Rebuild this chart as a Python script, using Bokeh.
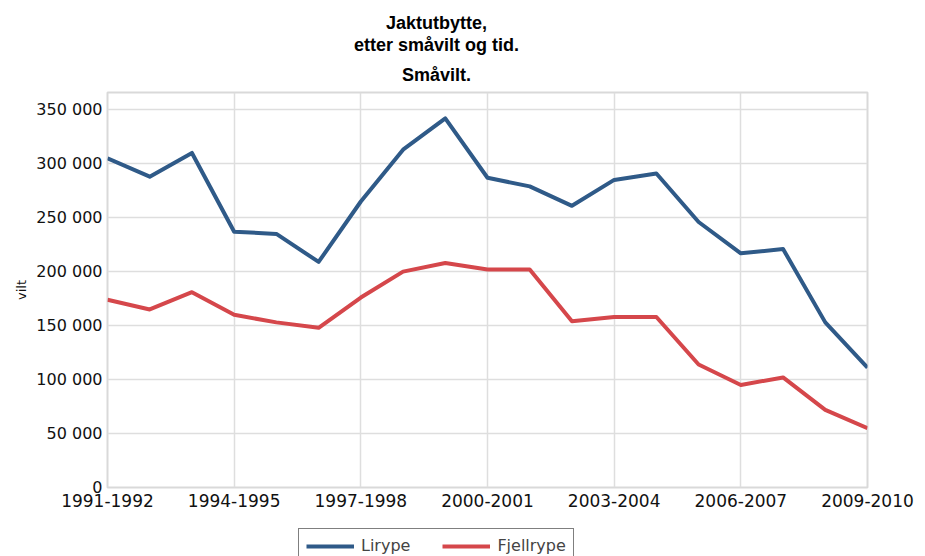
from bokeh.plotting import figure
from bokeh.layouts import column
from bokeh.models import Range1d, FixedTicker, Title, Legend, LegendItem
from bokeh.embed import file_html
from bokeh.resources import INLINE

seasons = ["1991-1992", "1992-1993", "1993-1994", "1994-1995", "1995-1996",
           "1996-1997", "1997-1998", "1998-1999", "1999-2000", "2000-2001",
           "2001-2002", "2002-2003", "2003-2004", "2004-2005", "2005-2006",
           "2006-2007", "2007-2008", "2008-2009", "2009-2010"]
lirype = [305000, 288000, 310000, 237000, 235000, 209000, 265000, 313000, 342000,
          287000, 279000, 261000, 285000, 291000, 246000, 217000, 221000, 153000, 111000]
fjellrype = [174000, 165000, 181000, 160000, 153000, 148000, 176000, 200000, 208000,
             202000, 202000, 154000, 158000, 158000, 114000, 95000, 102000, 72000, 55000]
y_ticks = [0, 50000, 100000, 150000, 200000, 250000, 300000, 350000]
y_tick_labels = ["0", "50 000", "100 000", "150 000", "200 000", "250 000", "300 000", "350 000"]
series_names = ["Lirype", "Fjellrype"]
series_colors = ["#2f5a88", "#d5474b"]
title_lines = ["Jaktutbytte,", "etter småvilt og tid.", "Småvilt."]
y_label = "vilt"

x = list(range(len(seasons)))
x_tick_pos = x[::3]

p = figure(width=925, height=526, output_backend="svg", toolbar_location=None,
           x_range=Range1d(0, len(seasons) - 1), y_range=Range1d(0, 366000),
           min_border_left=107, min_border_right=58, min_border_top=92, min_border_bottom=39)
p.background_fill_color = "white"
p.border_fill_color = "white"
p.outline_line_color = "#d9d9d9"
p.outline_line_width = 2

p.xaxis.ticker = FixedTicker(ticks=x_tick_pos)
p.xaxis.major_label_overrides = {i: seasons[i] for i in x_tick_pos}
p.yaxis.ticker = FixedTicker(ticks=y_ticks)
p.yaxis.major_label_overrides = {v: l for v, l in zip(y_ticks, y_tick_labels)}
for ax in (p.xaxis, p.yaxis):
    ax.axis_line_color = None
    ax.major_tick_line_color = None
    ax.minor_tick_line_color = None
    ax.major_tick_out = 0
    ax.major_tick_in = 0
    ax.major_label_text_font = "DejaVu Sans"
    ax.major_label_text_color = "#111111"
p.xaxis.major_label_text_font_size = "17px"
p.yaxis.major_label_text_font_size = "16px"
p.xaxis.major_label_standoff = 6
p.yaxis.major_label_standoff = 5
p.yaxis.axis_label = y_label
p.yaxis.axis_label_text_font = "DejaVu Sans"
p.yaxis.axis_label_text_font_size = "13px"
p.yaxis.axis_label_text_font_style = "normal"
p.yaxis.axis_label_text_color = "#111111"
p.yaxis.axis_label_standoff = 4

p.xgrid.ticker = FixedTicker(ticks=x_tick_pos)
p.ygrid.ticker = FixedTicker(ticks=y_ticks)
for g in (p.xgrid, p.ygrid):
    g.grid_line_color = "#dedede"
    g.grid_line_width = 1.5

r1 = p.line(x, lirype, line_color=series_colors[0], line_width=4, line_join="round")
r2 = p.line(x, fjellrype, line_color=series_colors[1], line_width=4, line_join="round")

# title lines: added bottom-most first so the first line ends up on top
est_widths = [101, 165, 69]
standoffs = [0, 0, 16]
for t, w, s in reversed(list(zip(title_lines, est_widths, standoffs))):
    p.add_layout(Title(text=t, align="left", offset=329 - w / 2, standoff=s,
                       text_font="Liberation Sans", text_font_style="bold",
                       text_font_size="18px", text_color="black"), "above")

# legend strip below the chart (its lines carry the data but lie outside its view)
lg = figure(width=925, height=30, output_backend="svg", toolbar_location=None,
            x_axis_type=None, y_axis_type=None,
            x_range=Range1d(0, len(seasons) - 1), y_range=Range1d(0, 1),
            min_border_left=0, min_border_right=0, min_border_top=0, min_border_bottom=0)
lg.outline_line_color = None
lg.grid.visible = False
lg.background_fill_color = "white"
lg.border_fill_color = "white"
lr1 = lg.line(x, lirype, line_color=series_colors[0], line_width=4)
lr2 = lg.line(x, fjellrype, line_color=series_colors[1], line_width=4)
legend = Legend(items=[LegendItem(label=series_names[0], renderers=[lr1]),
                       LegendItem(label=series_names[1], renderers=[lr2])],
                orientation="horizontal", location=(191, -7),
                glyph_width=48, glyph_height=12, label_standoff=7, spacing=32,
                padding=7, margin=0,
                label_text_font="DejaVu Sans", label_text_font_size="16px",
                border_line_color="black", border_line_width=1,
                background_fill_color="white", background_fill_alpha=1)
lg.add_layout(legend, "center")

layout = column(p, lg, spacing=0)
open("out.html", "w").write(file_html(layout, INLINE))
